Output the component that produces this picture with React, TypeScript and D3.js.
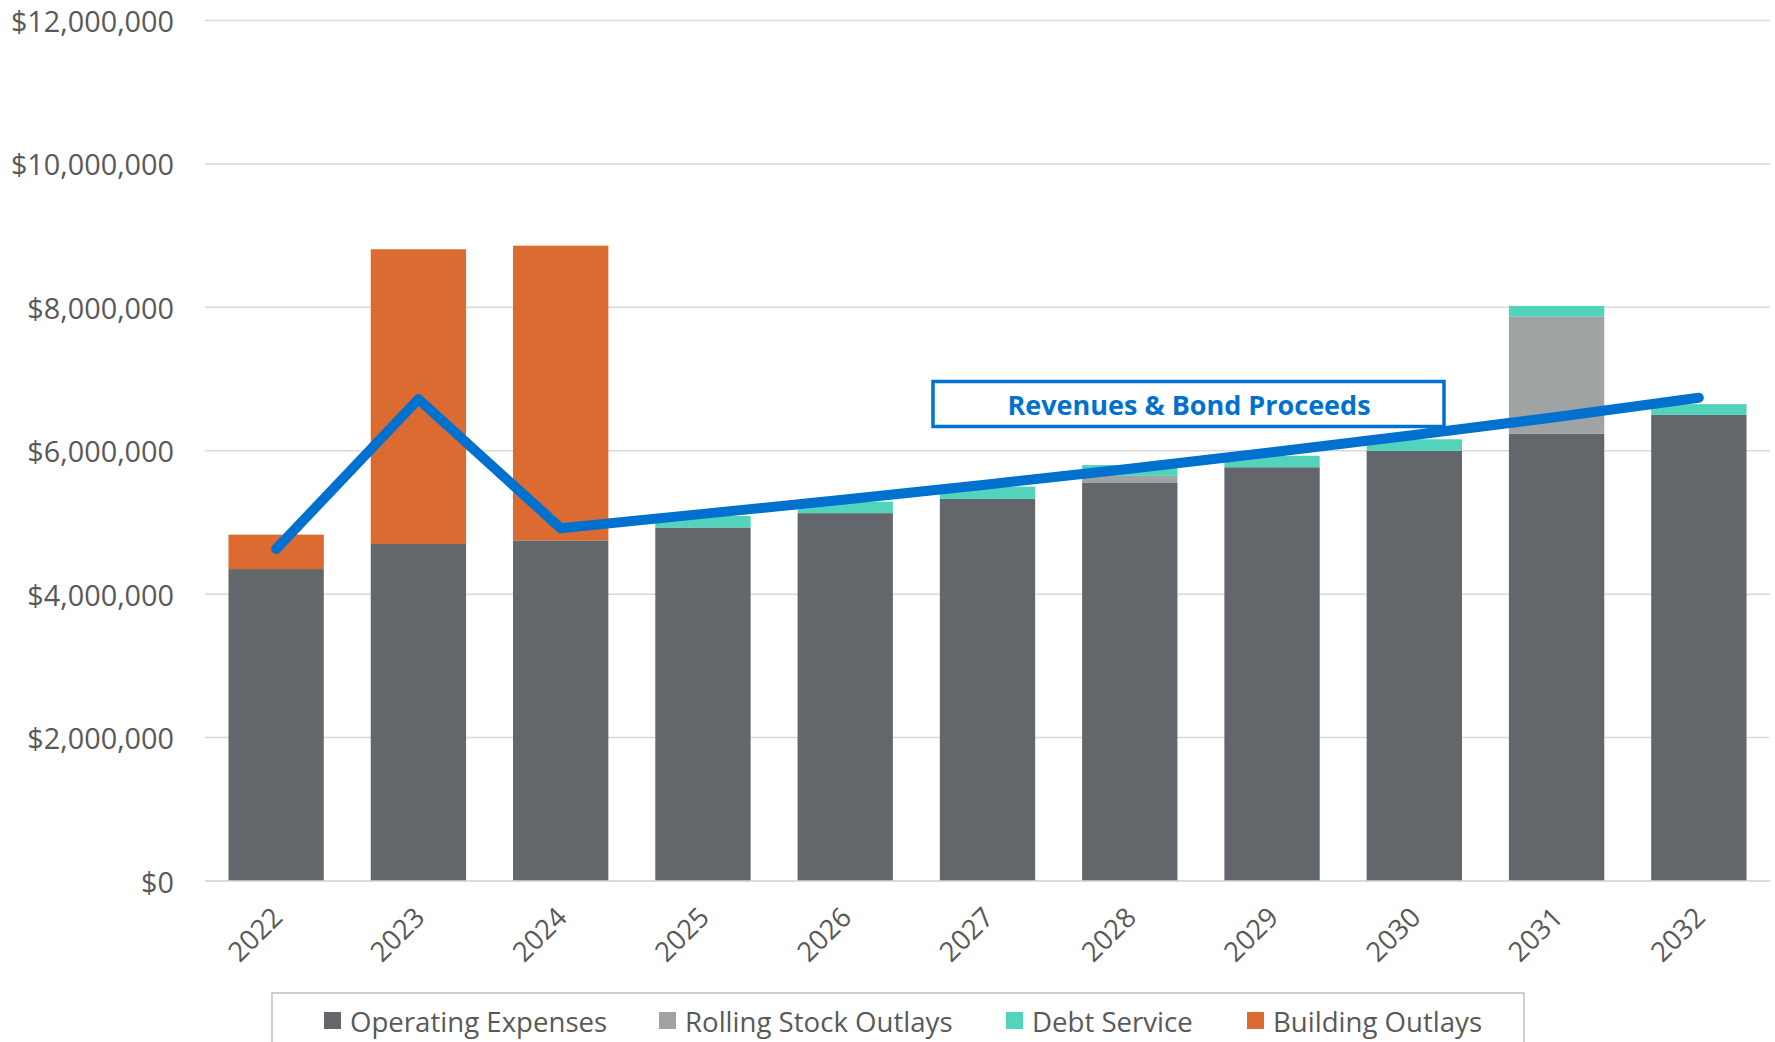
import React from "react";
import * as d3 from "d3";

const years = ["2022", "2023", "2024", "2025", "2026", "2027", "2028", "2029", "2030", "2031", "2032"];
const operatingExpenses = [4.35, 4.70, 4.75, 4.93, 5.13, 5.33, 5.55, 5.77, 6.00, 6.24, 6.50].map((v) => v * 1e6);
const rollingStockOutlays = [0, 0, 0, 0, 0, 0, 0.10, 0, 0, 1.63, 0].map((v) => v * 1e6);
const debtService = [0, 0, 0, 0.16, 0.16, 0.17, 0.15, 0.16, 0.16, 0.15, 0.15].map((v) => v * 1e6);
const buildingOutlays = [0.48, 4.11, 4.11, 0, 0, 0, 0, 0, 0, 0, 0].map((v) => v * 1e6);
const revenues = [4.63, 6.72, 4.92, 5.12, 5.32, 5.53, 5.75, 5.98, 6.22, 6.47, 6.74].map((v) => v * 1e6);
const yTicks = [0, 2e6, 4e6, 6e6, 8e6, 10e6, 12e6];

const seriesNames = ["Operating Expenses", "Rolling Stock Outlays", "Debt Service", "Building Outlays"];
const seriesColors = ["#63666a", "#9fa3a4", "#52d3bc", "#db6b30"];
const seriesData = [operatingExpenses, rollingStockOutlays, debtService, buildingOutlays];

const W = 1775;
const H = 1042;
const left = 205;
const right = 1770;
const top = 20.5;
const bottom = 881;
const FONT = "'Open Sans', sans-serif";
const BLUE = "#0071ce";

export default function App() {
  const x = d3.scaleBand<string>().domain(years).range([left, right]).paddingInner(0.33).paddingOuter(0.165);
  const y = d3.scaleLinear().domain([0, 12e6]).range([bottom, top]);

  const table = years.map((yr, i) => {
    const row: Record<string, number | string> = { year: yr };
    seriesNames.forEach((n, k) => (row[n] = seriesData[k][i]));
    return row;
  });
  const stacked = d3.stack<any>().keys(seriesNames)(table);

  const line = d3
    .line<number>()
    .x((_, i) => (x(years[i]) as number) + x.bandwidth() / 2)
    .y((d) => y(d));

  const fmt = (v: number) => "$" + d3.format(",")(v);

  const legendX = [324, 659, 1006, 1247];

  return (
    <svg width={W} height={H} style={{ position: "absolute", left: 0, top: 0, background: "#fff" }} fontFamily={FONT}>
      {yTicks.map((t) => (
        <g key={t}>
          <line x1={left} x2={right} y1={y(t)} y2={y(t)} stroke="#d9d9d9" strokeWidth={1.5} />
          <text x={174} y={y(t)} textAnchor="end" dominantBaseline="central" fontSize={28.8} fill="#595959">
            {fmt(t)}
          </text>
        </g>
      ))}
      {stacked.map((s, k) => (
        <g key={s.key} fill={seriesColors[k]}>
          {s.map((d, i) =>
            d[1] - d[0] > 0 ? (
              <rect
                key={i}
                x={x(years[i])}
                width={x.bandwidth()}
                y={y(d[1])}
                height={y(d[0]) - y(d[1])}
              />
            ) : null
          )}
        </g>
      ))}
      <line x1={left} x2={right} y1={y(0)} y2={y(0)} stroke="#d9d9d9" strokeWidth={1.5} />
      {years.map((yr) => {
        const cx = (x(yr) as number) + x.bandwidth() / 2;
        return (
          <text
            key={yr}
            transform={`translate(${cx + 8},${919}) rotate(-45)`}
            textAnchor="end"
            fontSize={27.5}
            fill="#595959"
          >
            {yr}
          </text>
        );
      })}
      <path
        d={line(revenues) as string}
        fill="none"
        stroke={BLUE}
        strokeWidth={10}
        strokeLinecap="round"
        strokeLinejoin="round"
      />
      <rect x={933} y={381.5} width={511} height={45} fill="#fff" stroke={BLUE} strokeWidth={3.5} />
      <text x={1189} y={404.5} textAnchor="middle" dominantBaseline="central" fontSize={27} fontWeight="bold" fill={BLUE}>
        Revenues &amp; Bond Proceeds
      </text>
      <rect x={272} y={993} width={1252} height={70} fill="#fff" stroke="#bfbfbf" strokeWidth={1.5} />
      {seriesNames.map((n, k) => (
        <g key={n}>
          <rect x={legendX[k]} y={1012} width={17} height={17} fill={seriesColors[k]} />
          <text x={legendX[k] + 26} y={1021} dominantBaseline="central" fontSize={27.6} fill="#595959">
            {n}
          </text>
        </g>
      ))}
    </svg>
  );
}
